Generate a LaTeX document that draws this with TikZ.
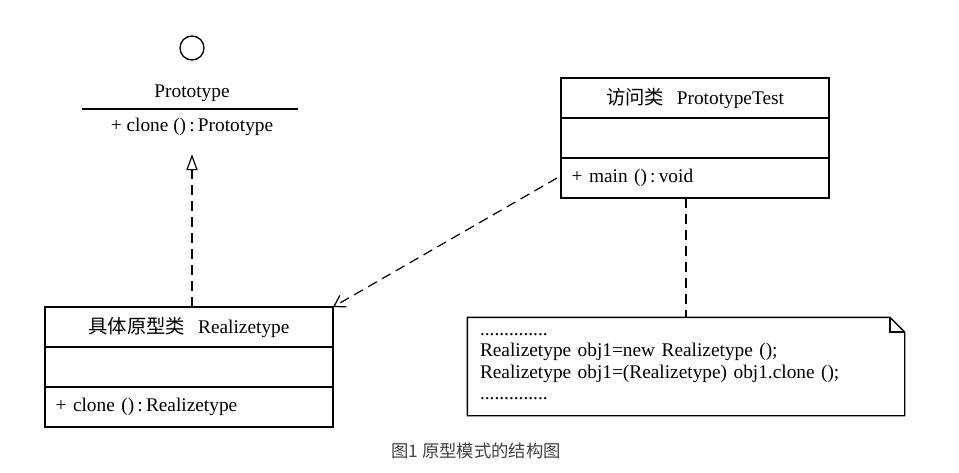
\documentclass[tikz,border=0pt]{standalone}
\usepackage{fontspec}
\setmainfont{Liberation Serif}
\newfontfamily\cjk{Noto Sans CJK SC}
\usetikzlibrary{positioning,arrows.meta}

\begin{document}
\begin{tikzpicture}[x=0.75pt,y=-0.75pt,line width=1pt,
    font=\fontsize{14.5}{16}\selectfont,
    part/.style={draw,inner xsep=8pt,inner ysep=0pt,outer sep=0pt,minimum height=30pt},
    testpart/.style={part,text width=185pt},
    realpart/.style={part,text width=200pt},
    dep/.style={line width=0.9pt,dash pattern=on 7.5pt off 4.5pt}]
    \useasboundingbox (0,0) rectangle (959,472);
    % Prototype interface
    \node[draw,circle,minimum size=18pt,inner sep=0pt] (lollipop) at (192,48) {};
    \node (protoname) at (192,93) {Prototype};
    \draw (82,109) -- (298,109);
    \node (protoop) at (192,127) {+ clone ()\,:\,Prototype};
    % PrototypeTest
    \node[testpart,align=center] (testname) at (695,98) {{\cjk 访问类}\ \ PrototypeTest};
    \node[testpart,below=0pt of testname] (testattr) {};
    \node[testpart,align=left,below=0pt of testattr] (testops) {+ main ()\,:\,void};
    % Realizetype
    \node[realpart,align=center] (realname) at (189,327) {{\cjk 具体原型类}\ \ Realizetype};
    \node[realpart,below=0pt of realname] (realattr) {};
    \node[realpart,align=left,below=0pt of realattr] (realops) {+ clone ()\,:\,Realizetype};
    % note
    \node[text width=309pt,inner xsep=9pt,minimum height=72.75pt,align=left] (note) at (686,366.5)
        {..............\\Realizetype obj1=new Realizetype ();\\Realizetype obj1=(Realizetype) obj1.clone ();\\..............};
    \draw (note.north west) -- ([xshift=-11pt]note.north east) -- ([yshift=-11pt]note.north east)
        -- (note.south east) -- (note.south west) -- cycle;
    \draw ([xshift=-11pt]note.north east) |- ([yshift=-11pt]note.north east);
    % connectors
    \draw[dep,-{Triangle[open,length=12pt,width=8.5pt]},shorten >=10pt] (realname.north -| protoop) -- (protoop.south);
    \draw[dep,-{Straight Barb[length=8pt,width=10pt]}] ([xshift=-3pt]testops.west) -- (realname.north east);
    \draw[dep] (note.north |- testops.south) -- (note.north);
    \node[font=\cjk\fontsize{13}{15}\selectfont,text=black!75] (caption) at (476,451) {图1 原型模式的结构图};
\end{tikzpicture}
\end{document}
